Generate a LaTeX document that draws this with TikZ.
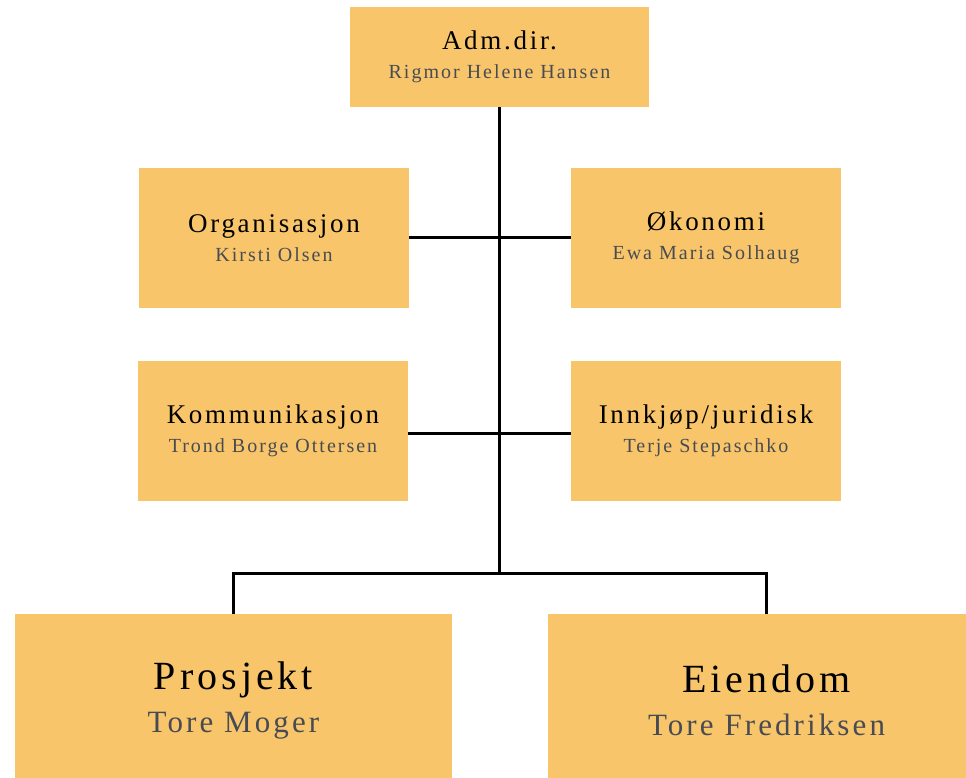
\documentclass[tikz,border=0pt]{standalone}
\usepackage{fontspec}
\setmainfont{Liberation Serif}[LetterSpace=10]
\usetikzlibrary{positioning}

\definecolor{boxfill}{HTML}{F8C56B}
\definecolor{namegray}{HTML}{484C52}

\newcommand{\unitlabel}[2]{{\fontsize{27}{29}\selectfont #1}\\{\fontsize{20}{29}\selectfont\color{namegray}#2}}
\newcommand{\biglabel}[2]{{\fontsize{40}{43}\selectfont #1}\\{\fontsize{31}{43}\selectfont\color{namegray}#2}}

\tikzset{
	unit/.style={fill=boxfill, inner sep=0pt, minimum width=270pt, minimum height=140pt, align=center, font=\fontsize{20}{29}\selectfont},
	bigunit/.style={unit, minimum width=437pt, minimum height=172pt, font=\fontsize{31}{43}\selectfont},
	link/.style={line width=3pt, color=black}
}

\begin{document}
\begin{tikzpicture}[x=1pt, y=-1pt]
		%%%%% START %%%%%
		\useasboundingbox (0, 0) rectangle (966, 778);
		
		\node[unit, minimum width=299pt, minimum height=100pt] (adm) at (499.5, 57) {\unitlabel{Adm.dir.}{Rigmor Helene Hansen}};
		
		\node[unit] (org) at (274, 238) {\unitlabel{Organisasjon}{Kirsti Olsen}};
		\node[unit] (oko) at (706, 238) {\unitlabel{Økonomi}{Ewa Maria Solhaug}};
		
		\node[unit] (kom) at (273, 431) {\unitlabel{Kommunikasjon}{Trond Borge Ottersen}};
		\node[unit] (inn) at (706, 431) {\unitlabel{Innkjøp/juridisk}{Terje Stepaschko}};
		
		\node[bigunit] (pro) at (233.5, 700) {\biglabel{Prosjekt}{Tore Moger}};
		\node[bigunit] (eie) at (766.5, 700) {\biglabel{Eiendom}{Tore Fredriksen}};
		
		\coordinate (split) at (499.5, 573);
		
		\draw[link] (adm.south) -- (split);
		\draw[link] (org.east |- 0, 237) -- (oko.west |- 0, 237);
		\draw[link] (kom.east |- 0, 433) -- (inn.west |- 0, 433);
		\draw[link] (pro.north) |- (split) -| (eie.north);
		
		%%%%% END %%%%%
	\end{tikzpicture}
\end{document}
